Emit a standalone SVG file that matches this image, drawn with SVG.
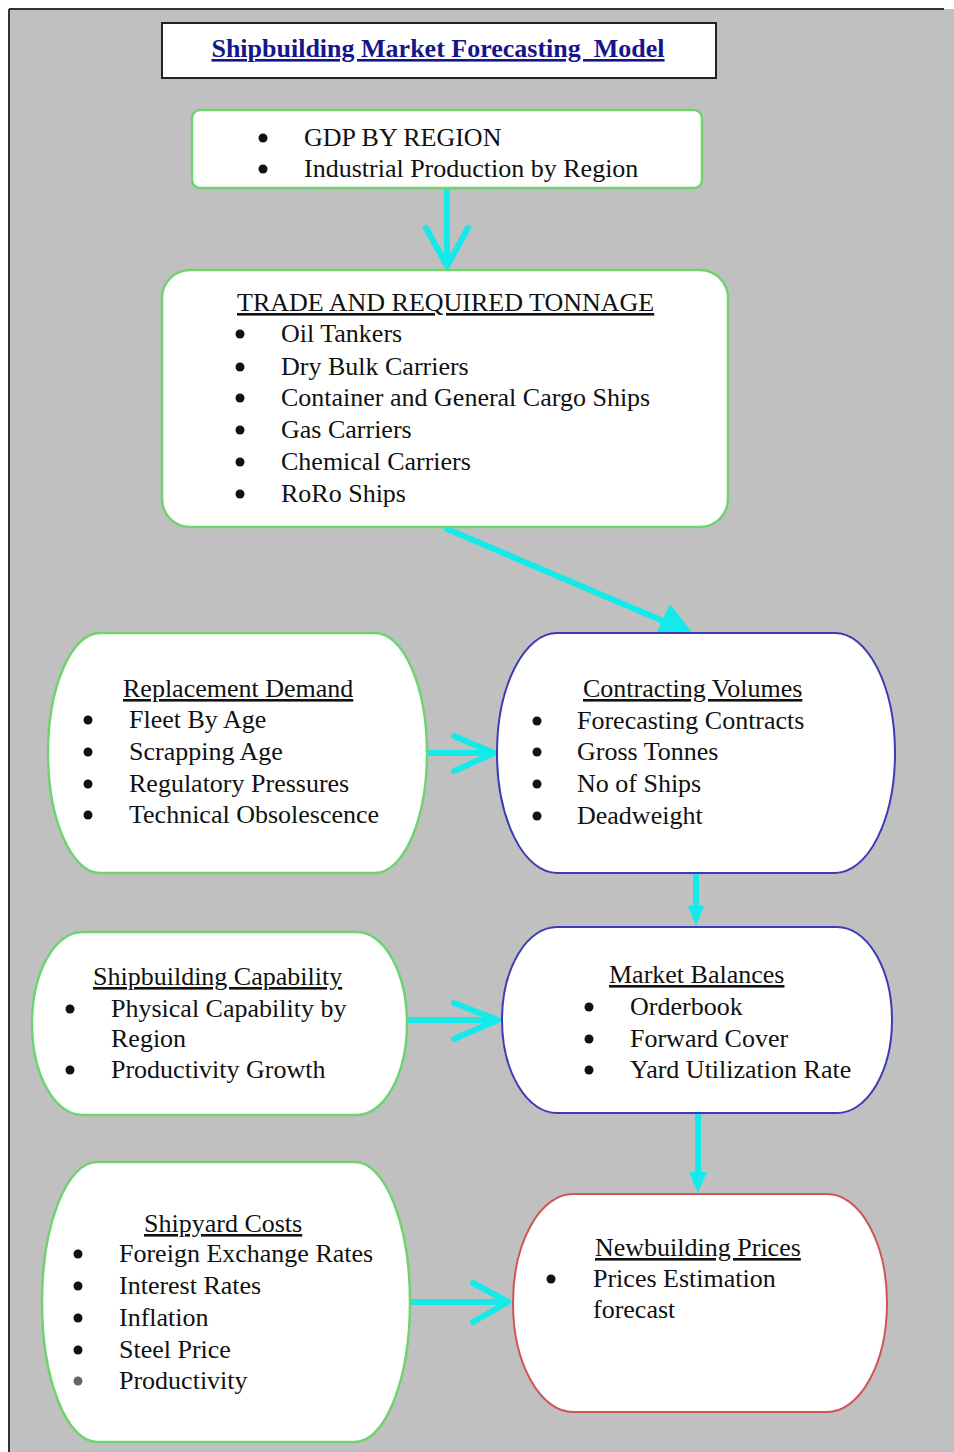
<svg xmlns="http://www.w3.org/2000/svg" width="954" height="1452" viewBox="0 0 954 1452">
<defs>
<style>
.t{font-family:"Liberation Serif","Times New Roman",serif;font-size:26px;fill:#111}
.h{text-decoration:underline}
.d{fill:#111}
.g{fill:#fff;stroke:#6fd46f;stroke-width:2.5}
.bl{fill:#fff;stroke:#3c3cb4;stroke-width:2}
.rd{fill:#fff;stroke:#d05555;stroke-width:2}
.c{stroke:#14eaea;stroke-width:6;fill:none;stroke-linecap:round;stroke-linejoin:round}
.cf{fill:#14eaea}
</style>
</defs>
<rect x="0" y="0" width="954" height="1452" fill="#fff"/>
<rect x="9" y="9" width="945" height="1443" fill="#c0c0c0"/>
<line x1="9" y1="9" x2="944" y2="9" stroke="#333" stroke-width="2"/>
<line x1="9" y1="9" x2="9" y2="1452" stroke="#333" stroke-width="2"/>

<g id="connectors">
<line class="c" x1="447" y1="190" x2="447" y2="266"/>
<polyline class="c" points="426,228 447,266 468,228"/>
<line class="c" x1="447" y1="529" x2="668" y2="623"/>
<polygon class="cf" points="694,635 656,634 670,604"/>
<line class="c" x1="428" y1="753" x2="493" y2="753"/>
<polyline class="c" points="454,736 494,753 454,771"/>
<line class="c" x1="696" y1="875" x2="696" y2="912"/>
<polygon class="cf" points="688,906 704,906 696,926"/>
<line class="c" x1="408" y1="1020" x2="497" y2="1020"/>
<polyline class="c" points="454,1003 498,1020 454,1039"/>
<line class="c" x1="698" y1="1115" x2="698" y2="1178"/>
<polygon class="cf" points="689,1172 707,1172 698,1193"/>
<line class="c" x1="411" y1="1302" x2="507" y2="1302"/>
<polyline class="c" points="473,1283 508,1302 473,1322"/>
</g>

<g id="title">
<rect x="162" y="23" width="554" height="55" fill="#fff" stroke="#222" stroke-width="2"/>
<text x="438" y="57" text-anchor="middle" font-family="Liberation Serif, Times New Roman, serif" font-size="26" font-weight="bold" fill="#16168c" text-decoration="underline">Shipbuilding Market Forecasting&#160; Model</text>
</g>

<g id="gdp">
<rect class="g" x="192" y="110" width="510" height="78" rx="8"/>
<circle class="d" cx="263" cy="138" r="4.5"/>
<text class="t" x="304" y="146">GDP BY REGION</text>
<circle class="d" cx="263" cy="169" r="4.5"/>
<text class="t" x="304" y="177">Industrial Production by Region</text>
</g>

<g id="trade">
<rect class="g" x="162" y="270" width="566" height="257" rx="28"/>
<text class="t h" x="237" y="311">TRADE AND REQUIRED TONNAGE</text>
<circle class="d" cx="240" cy="334" r="4.5"/><text class="t" x="281" y="342">Oil Tankers</text>
<circle class="d" cx="240" cy="367" r="4.5"/><text class="t" x="281" y="375">Dry Bulk Carriers</text>
<circle class="d" cx="240" cy="398" r="4.5"/><text class="t" x="281" y="406">Container and General Cargo Ships</text>
<circle class="d" cx="240" cy="430" r="4.5"/><text class="t" x="281" y="438">Gas Carriers</text>
<circle class="d" cx="240" cy="462" r="4.5"/><text class="t" x="281" y="470">Chemical Carriers</text>
<circle class="d" cx="240" cy="494" r="4.5"/><text class="t" x="281" y="502">RoRo Ships</text>
</g>

<g id="replacement">
<rect class="g" x="48" y="633" width="379" height="240" rx="52" ry="120"/>
<text class="t h" x="123" y="697">Replacement Demand</text>
<circle class="d" cx="88" cy="720" r="4.5"/><text class="t" x="129" y="728">Fleet By Age</text>
<circle class="d" cx="88" cy="752" r="4.5"/><text class="t" x="129" y="760">Scrapping Age</text>
<circle class="d" cx="88" cy="784" r="4.5"/><text class="t" x="129" y="792">Regulatory Pressures</text>
<circle class="d" cx="88" cy="815" r="4.5"/><text class="t" x="129" y="823">Technical Obsolescence</text>
</g>

<g id="contracting">
<rect class="bl" x="497" y="633" width="398" height="240" rx="60" ry="120"/>
<text class="t h" x="583" y="697">Contracting Volumes</text>
<circle class="d" cx="537" cy="721" r="4.5"/><text class="t" x="577" y="729">Forecasting Contracts</text>
<circle class="d" cx="537" cy="752" r="4.5"/><text class="t" x="577" y="760">Gross Tonnes</text>
<circle class="d" cx="537" cy="784" r="4.5"/><text class="t" x="577" y="792">No of Ships</text>
<circle class="d" cx="537" cy="816" r="4.5"/><text class="t" x="577" y="824">Deadweight</text>
</g>

<g id="capability">
<rect class="g" x="32" y="932" width="375" height="183" rx="50" ry="91.5"/>
<text class="t h" x="93" y="985">Shipbuilding Capability</text>
<circle class="d" cx="70" cy="1009" r="4.5"/><text class="t" x="111" y="1017">Physical Capability by</text>
<text class="t" x="111" y="1047">Region</text>
<circle class="d" cx="70" cy="1070" r="4.5"/><text class="t" x="111" y="1078">Productivity Growth</text>
</g>

<g id="market">
<rect class="bl" x="502" y="927" width="390" height="186" rx="55" ry="93"/>
<text class="t h" x="609" y="983">Market Balances</text>
<circle class="d" cx="589" cy="1007" r="4.5"/><text class="t" x="630" y="1015">Orderbook</text>
<circle class="d" cx="589" cy="1039" r="4.5"/><text class="t" x="630" y="1047">Forward Cover</text>
<circle class="d" cx="589" cy="1070" r="4.5"/><text class="t" x="630" y="1078">Yard Utilization Rate</text>
</g>

<g id="costs">
<rect class="g" x="42" y="1162" width="368" height="280" rx="55" ry="140"/>
<text class="t h" x="144" y="1232">Shipyard Costs</text>
<circle class="d" cx="78" cy="1254" r="4.5"/><text class="t" x="119" y="1262">Foreign Exchange Rates</text>
<circle class="d" cx="78" cy="1286" r="4.5"/><text class="t" x="119" y="1294">Interest Rates</text>
<circle class="d" cx="78" cy="1318" r="4.5"/><text class="t" x="119" y="1326">Inflation</text>
<circle class="d" cx="78" cy="1350" r="4.5"/><text class="t" x="119" y="1358">Steel Price</text>
<circle cx="78" cy="1381" r="4.5" fill="#666"/><text class="t" x="119" y="1389">Productivity</text>
</g>

<g id="prices">
<rect class="rd" x="513" y="1194" width="374" height="218" rx="60" ry="109"/>
<text class="t h" x="595" y="1256">Newbuilding Prices</text>
<circle class="d" cx="551" cy="1279" r="4.5"/><text class="t" x="593" y="1287">Prices Estimation</text>
<text class="t" x="593" y="1318">forecast</text>
</g>
</svg>
